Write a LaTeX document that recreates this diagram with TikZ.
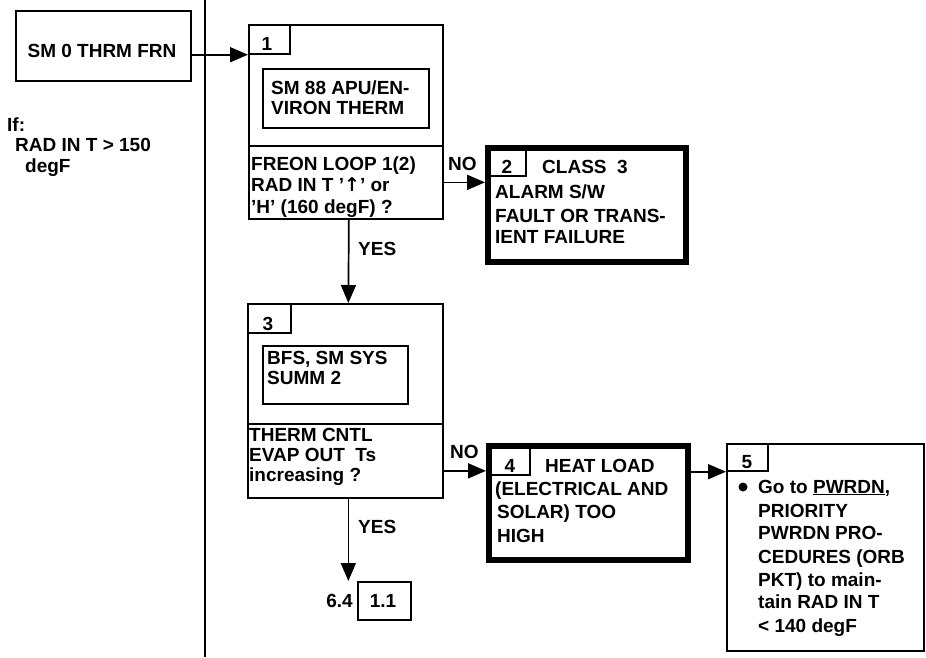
\documentclass[tikz,border=0pt]{standalone}
\usepackage{fontspec}
\setmainfont{Liberation Sans}
\newfontfamily\arrowfont{DejaVu Sans}
\usetikzlibrary{arrows.meta}
\begin{document}
\begin{tikzpicture}[x=1pt,y=-1pt,
  font=\fontsize{19}{22}\selectfont\bfseries,
  box/.style={draw,line width=1.7pt,rectangle,inner sep=0pt,anchor=north west},
  heavybox/.style={box,line width=6pt},
  ln/.style={anchor=base west,inner sep=0pt},
  num/.style={anchor=base,inner sep=0pt},
  arr/.style={line width=1.7pt,-{Triangle[length=18pt,width=15pt]}}]
\useasboundingbox (0,0) rectangle (926,657);

% left column
\node[box,minimum width=175pt,minimum height=70pt] (sm0) at (15,10) {};
\node[num] (sm0t) at (102,57) {SM 0 THRM FRN};
\node[ln] (if1) at (7,131) {If:};
\node[ln] (if2) at (15,151) {RAD IN T > 150};
\node[ln] (if3) at (25,172) {degF};

% divider
\coordinate (dtop) at (205,0);
\coordinate (dbot) at (205,657);
\draw[line width=1.7pt] (dtop) -- (dbot);

% box 1
\node[box,minimum width=194pt,minimum height=121pt] (b1top) at (248,24) {};
\node[box,minimum width=194pt,minimum height=73pt] (b1bot) at (248,145) {};
\node[box,minimum width=41pt,minimum height=29pt] (t1) at (248,24) {};
\node[num] (n1) at (267,50) {1};
\node[box,minimum width=166pt,minimum height=59pt] (i1) at (262,68) {};
\node[ln] (i1a) at (271,94) {SM 88 APU/EN-};
\node[ln] (i1b) at (271,114) {VIRON THERM};
\node[ln] (q1a) at (251,170) {FREON LOOP 1(2)};
\node[ln] (q1b) at (251,191) {RAD IN T ’{\arrowfont\bfseries ↑}’ or};
\node[ln] (q1c) at (251,213) {’H’ (160 degF) ?};

% box 2
\node[heavybox,minimum width=198pt,minimum height=114pt] (b2) at (485,145) {};
\node[box,minimum width=37pt,minimum height=27pt] (t2) at (488,148) {};
\node[num] (n2) at (507,173) {2};
\node[ln] (c2a) at (542,173) {CLASS\ \ 3};
\node[ln] (c2b) at (495,198) {ALARM S/W};
\node[ln] (c2c) at (495,222) {FAULT OR TRANS-};
\node[ln] (c2d) at (495,243) {IENT FAILURE};

% box 3
\node[box,minimum width=195pt,minimum height=120pt] (b3top) at (247,303) {};
\node[box,minimum width=195pt,minimum height=74pt] (b3bot) at (247,423) {};
\node[box,minimum width=43pt,minimum height=29pt] (t3) at (247,303) {};
\node[num] (n3) at (268,330) {3};
\node[box,minimum width=145pt,minimum height=58pt] (i3) at (262,345) {};
\node[ln] (i3a) at (267,364) {BFS, SM SYS};
\node[ln] (i3b) at (267,384) {SUMM 2};
\node[ln] (q3a) at (249,441) {THERM CNTL};
\node[ln] (q3b) at (249,461) {EVAP OUT\ \ Ts};
\node[ln] (q3c) at (249,481) {increasing ?};

% box 4
\node[heavybox,minimum width=199pt,minimum height=114pt] (b4) at (486,443) {};
\node[box,minimum width=40pt,minimum height=28pt] (t4) at (489,446) {};
\node[num] (n4) at (510,472) {4};
\node[ln] (c4a) at (545,472) {HEAT LOAD};
\node[ln] (c4b) at (495,495) {(ELECTRICAL AND};
\node[ln] (c4c) at (497,518) {SOLAR) TOO};
\node[ln] (c4d) at (497,542) {HIGH};

% box 5
\node[box,minimum width=197pt,minimum height=207pt] (b5) at (726,443) {};
\node[box,minimum width=41pt,minimum height=27pt] (t5) at (726,443) {};
\node[num] (n5) at (747,468) {5};
\node[circle,fill,inner sep=0pt,minimum size=9pt] (bul) at (743,487) {};
\node[ln] (c5a) at (758,493) {Go to \underline{PWRDN},};
\node[ln] (c5b) at (758,517) {PRIORITY};
\node[ln] (c5c) at (758,539) {PWRDN PRO-};
\node[ln] (c5d) at (758,563) {CEDURES (ORB};
\node[ln] (c5e) at (758,586) {PKT) to main-};
\node[ln] (c5f) at (758,608) {tain RAD IN T};
\node[ln] (c5g) at (758,632) {< 140 degF};

% exit
\node[box,minimum width=53pt,minimum height=38pt] (b11) at (357,581) {};
\node[num] (n11) at (383,607) {1.1};
\node[anchor=base east,inner sep=0pt] (x64) at (353,607) {6.4};

% connectors
\draw[arr] (sm0.east |- t1.south) -- (b1top.west |- t1.south);
\draw[arr] (b1bot.east) -- (b1bot.east -| b2.west);
\node[ln] (no1) at (448,170) {NO};
\draw[arr] ([xshift=3pt]b1bot.south) -- ([xshift=3pt]b3top.north);
\node[ln] (yes1) at (358,255) {YES};
\draw[arr] ([yshift=-10pt]b3bot.east) -- ([yshift=-10pt]b3bot.east -| b4.west);
\node[ln] (no2) at (450,458) {NO};
\draw[arr] ([xshift=3pt]b3bot.south) -- ([xshift=3pt]b3bot.south |- b11.north);
\node[ln] (yes2) at (358,533) {YES};
\draw[arr] (b4.east |- t5.south) -- (b5.west |- t5.south);
\end{tikzpicture}
\end{document}
